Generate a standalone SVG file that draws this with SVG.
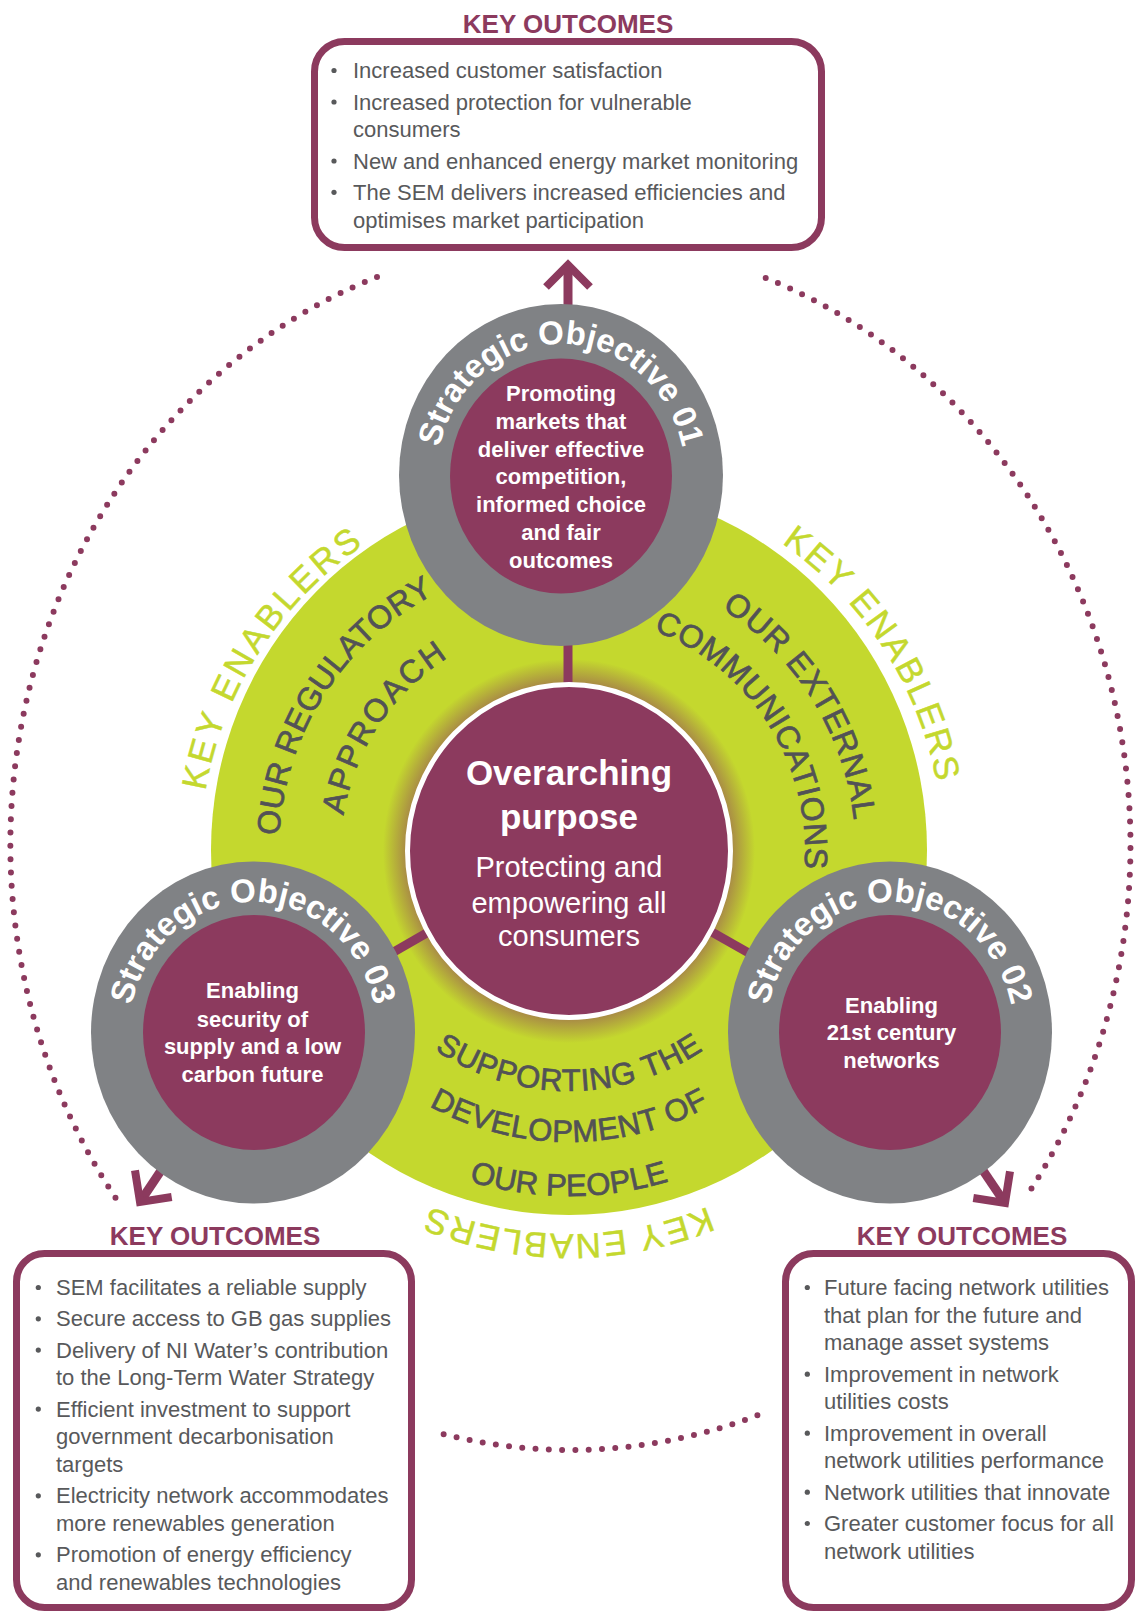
<svg xmlns="http://www.w3.org/2000/svg" width="1135" height="1611" viewBox="0 0 1135 1611">
<style>
.box{fill:#fff;stroke:#8c3a5e;stroke-width:7}
.title{font-family:"Liberation Sans",Arial,sans-serif;font-weight:bold;font-size:26px;fill:#8c3a5e;text-anchor:middle}
.li{font-family:"Liberation Sans",Arial,sans-serif;font-size:22px;fill:#58595b}
.bul{fill:#58595b}
.dots{fill:none;stroke:#8c3a5e;stroke-width:6;stroke-linecap:round;stroke-dasharray:0 13.3}
.gray{fill:#808285}
.pur{fill:#8c3a5e}
.ring{font-family:"Liberation Sans",Arial,sans-serif;font-weight:bold;font-size:33px;fill:#fff}
.inner{font-family:"Liberation Sans",Arial,sans-serif;font-weight:bold;font-size:22px;fill:#fff;text-anchor:middle}
.ke{font-family:"Liberation Sans",Arial,sans-serif;font-size:35px;fill:#c4d82e;stroke:#c4d82e;stroke-width:0.5}
.dk{font-family:"Liberation Sans",Arial,sans-serif;font-size:32px;fill:#525256;stroke:#525256;stroke-width:0.7}
.dkb{font-family:"Liberation Sans",Arial,sans-serif;font-size:31px;fill:#525256;stroke:#525256;stroke-width:0.7}
.conn{stroke:#8c3a5e;stroke-width:9;fill:none}
.head{stroke:#8c3a5e;stroke-width:8;fill:none;stroke-linejoin:miter}
</style>
<defs>
<radialGradient id="glow" cx="50%" cy="50%" r="50%">
<stop offset="0" stop-color="#8c3a5e" stop-opacity="0.6"/>
<stop offset="0.86" stop-color="#8c3a5e" stop-opacity="0.55"/>
<stop offset="1" stop-color="#8c3a5e" stop-opacity="0"/>
</radialGradient>
<path id="r1" d="M561 606 A124 131 0 1 1 561 344 A124 131 0 1 1 561 606"/>
<path id="r3" d="M253 1164 A124 131 0 1 1 253 902 A124 131 0 1 1 253 1164"/>
<path id="r2" d="M890 1164 A124 131 0 1 1 890 902 A124 131 0 1 1 890 1164"/>
<path id="keL" d="M367 1165.7 A374 374 0 0 1 771 536.3"/>
<path id="keR" d="M365.3 537.3 A374 374 0 0 1 772.7 1164.7"/>
<path id="keB" d="M943 851 A374 383 0 0 1 195 851"/>
<path id="reg" d="M412.5 1095.2 A290 290 0 0 1 725.5 606.8"/>
<path id="app" d="M441.8 1043.8 A231 231 0 0 1 696.2 658.2"/>
<path id="ext" d="M415.9 605.9 A289 289 0 0 1 722.1 1096.1"/>
<path id="com" d="M442.6 651.7 A236 236 0 0 1 695.4 1050.3"/>
<path id="sup" d="M329 851 A240 240 0 0 0 809 851"/>
<path id="dev" d="M278 851 A291 291 0 0 0 860 851"/>
<path id="peo" d="M224 851 A345 345 0 0 0 914 851"/>
</defs>

<g id="dotted-cycle">
<path class="dots" d="M377 277 A560 605 0 0 0 115.7 1198"/>
<path class="dots" d="M765.7 278 A560 605 0 0 1 1025.3 1198"/>
<path class="dots" d="M757.4 1415.3 A560 605 0 0 1 435 1432"/>
</g>

<g id="outcomes-01">
<text class="title" x="568" y="32.5">KEY OUTCOMES</text>
<rect class="box" x="314.5" y="41.5" width="507" height="206" rx="30"/>
<circle class="bul" cx="334" cy="70.5" r="2.6"/>
<circle class="bul" cx="334" cy="102" r="2.6"/>
<circle class="bul" cx="334" cy="161" r="2.6"/>
<circle class="bul" cx="334" cy="192.3" r="2.6"/>
<text class="li" x="353" y="78">Increased customer satisfaction</text>
<text class="li" x="353" y="109.5">Increased protection for vulnerable</text>
<text class="li" x="353" y="137.2">consumers</text>
<text class="li" x="353" y="168.5">New and enhanced energy market monitoring</text>
<text class="li" x="353" y="199.8">The SEM delivers increased efficiencies and</text>
<text class="li" x="353" y="227.5">optimises market participation</text>
</g>

<g id="outcomes-03">
<text class="title" x="215" y="1245">KEY OUTCOMES</text>
<rect class="box" x="16.5" y="1253.5" width="395" height="354" rx="28"/>
<circle class="bul" cx="38.3" cy="1287.5" r="2.6"/>
<circle class="bul" cx="38.3" cy="1318.8" r="2.6"/>
<circle class="bul" cx="38.3" cy="1350.1" r="2.6"/>
<circle class="bul" cx="38.3" cy="1409.1" r="2.6"/>
<circle class="bul" cx="38.3" cy="1495.8" r="2.6"/>
<circle class="bul" cx="38.3" cy="1554.8" r="2.6"/>
<text class="li" x="56" y="1295">SEM facilitates a reliable supply</text>
<text class="li" x="56" y="1326.3">Secure access to GB gas supplies</text>
<text class="li" x="56" y="1357.6">Delivery of NI Water’s contribution</text>
<text class="li" x="56" y="1385.3">to the Long-Term Water Strategy</text>
<text class="li" x="56" y="1416.6">Efficient investment to support</text>
<text class="li" x="56" y="1444.3">government decarbonisation</text>
<text class="li" x="56" y="1472">targets</text>
<text class="li" x="56" y="1503.3">Electricity network accommodates</text>
<text class="li" x="56" y="1531">more renewables generation</text>
<text class="li" x="56" y="1562.3">Promotion of energy efficiency</text>
<text class="li" x="56" y="1590">and renewables technologies</text>
</g>

<g id="outcomes-02">
<text class="title" x="962" y="1245">KEY OUTCOMES</text>
<rect class="box" x="785.5" y="1253.5" width="346" height="354" rx="28"/>
<circle class="bul" cx="807.3" cy="1287.5" r="2.6"/>
<circle class="bul" cx="807.3" cy="1374.2" r="2.6"/>
<circle class="bul" cx="807.3" cy="1433.2" r="2.6"/>
<circle class="bul" cx="807.3" cy="1492.2" r="2.6"/>
<circle class="bul" cx="807.3" cy="1523.5" r="2.6"/>
<text class="li" x="824" y="1295">Future facing network utilities</text>
<text class="li" x="824" y="1322.7">that plan for the future and</text>
<text class="li" x="824" y="1350.4">manage asset systems</text>
<text class="li" x="824" y="1381.7">Improvement in network</text>
<text class="li" x="824" y="1409.4">utilities costs</text>
<text class="li" x="824" y="1440.7">Improvement in overall</text>
<text class="li" x="824" y="1468.4">network utilities performance</text>
<text class="li" x="824" y="1499.7">Network utilities that innovate</text>
<text class="li" x="824" y="1531">Greater customer focus for all</text>
<text class="li" x="824" y="1558.7">network utilities</text>
</g>

<g id="enablers-disc">
<ellipse cx="569" cy="850" rx="358" ry="365" fill="#c4d82e"/>
<ellipse cx="569" cy="851" rx="186" ry="192" fill="url(#glow)"/>
</g>

<g id="connectors">
<line class="conn" x1="568" y1="851" x2="568" y2="268"/>
<polyline class="head" points="546,287 568,265 590,287"/>
<line class="conn" x1="569" y1="851" x2="253" y2="1033"/>
<line class="conn" x1="253" y1="1033" x2="140" y2="1202"/>
<polyline class="head" points="135,1170.3 140,1202 171.7,1197"/>
<line class="conn" x1="569" y1="851" x2="890" y2="1033"/>
<line class="conn" x1="890" y1="1033" x2="1005" y2="1203"/>
<polyline class="head" points="1010,1171.3 1005,1203 973.3,1198"/>
</g>

<g id="purpose">
<ellipse cx="569" cy="851" rx="161.5" ry="166.5" fill="#8c3a5e" stroke="#fff" stroke-width="5"/>
<text x="569" y="785" font-family="Liberation Sans, Arial, sans-serif" font-weight="bold" font-size="35" fill="#fff" text-anchor="middle">Overarching</text>
<text x="569" y="829" font-family="Liberation Sans, Arial, sans-serif" font-weight="bold" font-size="35" fill="#fff" text-anchor="middle">purpose</text>
<text x="569" y="877" font-family="Liberation Sans, Arial, sans-serif" font-size="29" fill="#fff" text-anchor="middle">Protecting and</text>
<text x="569" y="913" font-family="Liberation Sans, Arial, sans-serif" font-size="29" fill="#fff" text-anchor="middle">empowering all</text>
<text x="569" y="946" font-family="Liberation Sans, Arial, sans-serif" font-size="29" fill="#fff" text-anchor="middle">consumers</text>
</g>

<g id="objective-01">
<ellipse class="gray" cx="561" cy="475" rx="162" ry="171"/>
<ellipse class="pur" cx="561" cy="476" rx="111" ry="117.5"/>
<text class="ring"><textPath href="#r1" startOffset="50%" text-anchor="middle">Strategic Objective 01</textPath></text>
<text class="inner" x="561" y="401">Promoting</text>
<text class="inner" x="561" y="428.5">markets that</text>
<text class="inner" x="561" y="456.5">deliver effective</text>
<text class="inner" x="561" y="484">competition,</text>
<text class="inner" x="561" y="512">informed choice</text>
<text class="inner" x="561" y="540">and fair</text>
<text class="inner" x="561" y="568">outcomes</text>
</g>

<g id="objective-03">
<ellipse class="gray" cx="253" cy="1032.5" rx="162" ry="171"/>
<ellipse class="pur" cx="254" cy="1032.5" rx="111" ry="117.5"/>
<text class="ring"><textPath href="#r3" startOffset="50%" text-anchor="middle">Strategic Objective 03</textPath></text>
<text class="inner" x="252.5" y="998.3">Enabling</text>
<text class="inner" x="252.5" y="1026.7">security of</text>
<text class="inner" x="252.5" y="1054">supply and a low</text>
<text class="inner" x="252.5" y="1081.7">carbon future</text>
</g>

<g id="objective-02">
<ellipse class="gray" cx="890" cy="1032.5" rx="162" ry="171"/>
<ellipse class="pur" cx="890" cy="1032.5" rx="111" ry="117.5"/>
<text class="ring"><textPath href="#r2" startOffset="50%" text-anchor="middle">Strategic Objective 02</textPath></text>
<text class="inner" x="891.5" y="1013.3">Enabling</text>
<text class="inner" x="891.5" y="1040">21st century</text>
<text class="inner" x="891.5" y="1068.3">networks</text>
</g>

<g id="enabler-labels">
<text class="ke"><textPath href="#keL" startOffset="50%" text-anchor="middle" textLength="300" lengthAdjust="spacing">KEY ENABLERS</textPath></text>
<text class="ke"><textPath href="#keR" startOffset="50%" text-anchor="middle" textLength="292" lengthAdjust="spacing">KEY ENABLERS</textPath></text>
<text class="ke"><textPath href="#keB" startOffset="50%" text-anchor="middle" textLength="285" lengthAdjust="spacing">KEY ENABLERS</textPath></text>
<text class="dk"><textPath href="#reg" startOffset="50%" text-anchor="middle" textLength="300" lengthAdjust="spacing">OUR REGULATORY</textPath></text>
<text class="dk"><textPath href="#app" startOffset="50%" text-anchor="middle" textLength="195" lengthAdjust="spacing">APPROACH</textPath></text>
<text class="dk"><textPath href="#ext" startOffset="50%" text-anchor="middle" textLength="258" lengthAdjust="spacing">OUR EXTERNAL</textPath></text>
<text class="dk"><textPath href="#com" startOffset="50%" text-anchor="middle" textLength="302" lengthAdjust="spacing">COMMUNICATIONS</textPath></text>
<text class="dkb"><textPath href="#sup" startOffset="50%" text-anchor="middle" textLength="285" lengthAdjust="spacing">SUPPORTING THE</textPath></text>
<text class="dkb"><textPath href="#dev" startOffset="50%" text-anchor="middle" textLength="292" lengthAdjust="spacing">DEVELOPMENT OF</textPath></text>
<text class="dkb"><textPath href="#peo" startOffset="50%" text-anchor="middle" textLength="203" lengthAdjust="spacing">OUR PEOPLE</textPath></text>
</g>
</svg>
